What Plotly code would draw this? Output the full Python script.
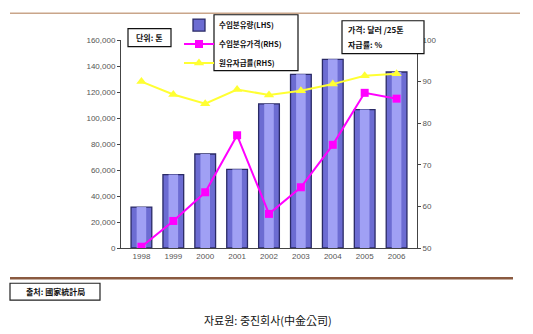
import plotly.graph_objects as go

years = ["1998", "1999", "2000", "2001", "2002", "2003", "2004", "2005", "2006"]
import_volume = [31500, 56500, 72300, 60500, 110800, 133600, 145100, 106500, 135400]
import_price = [50.3, 56.5, 63.4, 77.1, 58.2, 64.6, 74.8, 87.3, 85.9]
self_sufficiency = [90.0, 86.9, 84.7, 88.1, 86.8, 87.8, 89.4, 91.4, 91.9]

left_ticks = [0, 20000, 40000, 60000, 80000, 100000, 120000, 140000, 160000]
right_ticks = [50, 60, 70, 80, 90, 100]

W, H = 533, 334
L, R, T, B = 121, 417, 39.3, 247.7

def px(x):
    return (x - L) / (R - L)

def py(y):
    return (B - y) / (B - T)

KR = "Noto Sans CJK KR"
fig = go.Figure()
fig.add_trace(go.Bar(x=years, y=import_volume, name="수입분유량(LHS)", width=0.65,
                     marker=dict(color="#6c6cd2", line=dict(color="#2a2a66", width=1.3))))
fig.add_trace(go.Bar(x=years, y=import_volume, showlegend=False, width=0.3, hoverinfo="skip",
                     marker=dict(color="#a0a0f4", line=dict(width=0))))
fig.add_trace(go.Scatter(x=years, y=import_price, name="수입분유가격(RHS)", yaxis="y2",
                         mode="lines+markers", line=dict(color="#ff00ff", width=2),
                         marker=dict(symbol="square", size=8, color="#ff00ff")))
fig.add_trace(go.Scatter(x=years, y=self_sufficiency, name="원유자급률(RHS)", yaxis="y2",
                         mode="lines+markers", line=dict(color="#ffff33", width=2),
                         marker=dict(symbol="triangle-up", size=9, color="#ffff33")))

tickfont = dict(family="Liberation Sans", size=8, color="#555555")
fig.update_layout(
    width=W, height=H, margin=dict(l=L, r=W - R, t=T, b=H - B),
    paper_bgcolor="white", plot_bgcolor="white", barmode="overlay",
    xaxis=dict(type="category", showline=True, linecolor="#444", linewidth=1,
               ticks="", tickfont=tickfont, showgrid=False),
    yaxis=dict(range=[0, 160000], tickvals=left_ticks, tickformat=",", showgrid=False,
               showline=True, linecolor="#444", linewidth=1, ticks="outside", ticklen=3,
               tickcolor="#444", tickfont=tickfont, zeroline=False),
    yaxis2=dict(range=[50, 100], tickvals=right_ticks, overlaying="y", side="right",
                showgrid=False, showline=True, linecolor="#444", linewidth=1,
                ticks="outside", ticklen=3, tickcolor="#444", tickfont=tickfont, zeroline=False),
    legend=dict(x=px(179), y=py(11), xanchor="left", yanchor="top",
                bgcolor="rgba(0,0,0,0)", font=dict(family=KR, size=7.5, color="#111", weight="bold"),
                itemwidth=30, tracegroupgap=0),
    showlegend=True,
)

shapes = [
    dict(type="rect", xref="paper", yref="paper", x0=px(214), x1=px(298), y0=py(14), y1=py(70),
         line=dict(color="#111", width=1.2)),
    dict(type="rect", xref="paper", yref="paper", x0=px(128), x1=px(171), y0=py(28), y1=py(46),
         line=dict(color="#111", width=1.2)),
    dict(type="rect", xref="paper", yref="paper", x0=px(342), x1=px(424), y0=py(20), y1=py(53),
         line=dict(color="#111", width=1.2), fillcolor="white", layer="above"),
    dict(type="rect", xref="paper", yref="paper", x0=px(10), x1=px(100), y0=py(283), y1=py(300),
         line=dict(color="#222", width=1.2)),
    dict(type="line", xref="paper", yref="paper", x0=px(10), x1=px(520), y0=py(12.5), y1=py(12.5),
         line=dict(color="#c9a58a", width=1.5)),
    dict(type="line", xref="paper", yref="paper", x0=px(10), x1=px(513), y0=py(278), y1=py(278),
         line=dict(color="#8a5a40", width=2.5)),
]
fig.update_layout(shapes=shapes)

ann = [
    dict(text="<b>단위: 톤</b>", x=px(149.5), y=py(37), xanchor="center", yanchor="middle", size=8),
    dict(text="<b>가격: 달러 /25톤</b>", x=px(346), y=py(29), xanchor="left", yanchor="middle", size=8),
    dict(text="<b>자급률: %</b>", x=px(346), y=py(44), xanchor="left", yanchor="middle", size=8),
    dict(text="<b>출처: 國家統計局</b>", x=px(55), y=py(291.5), xanchor="center", yanchor="middle", size=8),
    dict(text="자료원: 중진회사(中金公司)", x=px(268), y=py(320), xanchor="center", yanchor="middle", size=11),
]
fig.update_layout(annotations=[dict(text=a["text"], x=a["x"], y=a["y"], xref="paper", yref="paper",
                                    xanchor=a["xanchor"], yanchor=a["yanchor"], showarrow=False,
                                    font=dict(family=KR, size=a["size"], color="#111"))
                               for a in ann])

fig.write_html("out.html")
